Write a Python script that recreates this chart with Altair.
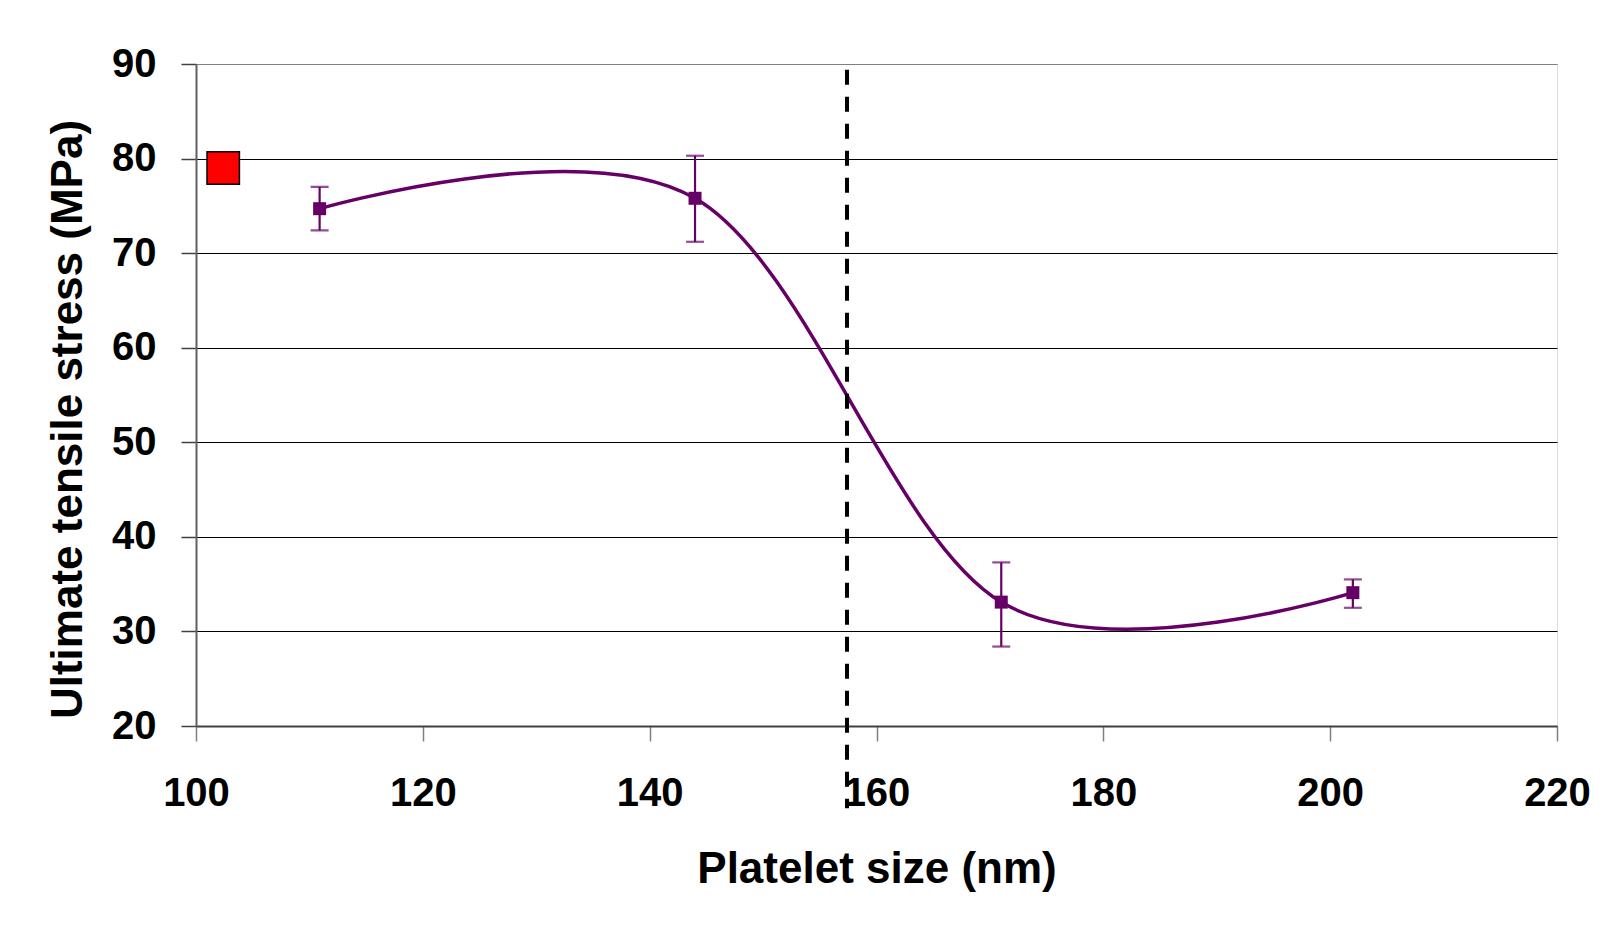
import altair as alt
import pandas as pd

# Measured series (platelet size nm, UTS MPa, error bar bounds)
size_nm = [110.9, 144.0, 171.0, 202.0]
uts_mpa = [74.7, 75.8, 33.1, 34.1]
err_low = [72.4, 71.2, 28.4, 32.5]
err_high = [77.0, 80.3, 37.3, 35.5]

# Reference (red) point
ref_size = [102.4]
ref_uts = [79.0]

# Critical size (dashed line) and its drawn extent
crit_size = [157.4]
crit_top = [89.4]
crit_bottom = [11.3]

x_ticks = [100, 120, 140, 160, 180, 200, 220]
y_ticks = [20, 30, 40, 50, 60, 70, 80, 90]

PURPLE = "#660066"
FONT = "Liberation Sans"

df = pd.DataFrame({"x": size_nm, "y": uts_mpa, "lo": err_low, "hi": err_high})
ref = pd.DataFrame({"x": ref_size, "y": ref_uts})
crit = pd.DataFrame({"x": crit_size, "y": crit_top, "y2": crit_bottom})

xscale = alt.Scale(domain=[100, 220], nice=False, zero=False)
yscale = alt.Scale(domain=[20, 90], nice=False, zero=False)

xaxis = alt.Axis(
    title="Platelet size (nm)", values=x_ticks, grid=False,
    tickSize=15, tickColor="#808080", tickWidth=1.5,
    domainColor="#404040", domainWidth=2,
    labelFont=FONT, labelFontSize=40, labelFontWeight="bold", labelColor="black",
    labelPadding=32, labelFlush=False,
    titleFont=FONT, titleFontSize=44, titleFontWeight="bold", titleColor="black",
    titleBaseline="alphabetic", titleY=156,
)
yaxis = alt.Axis(
    title="Ultimate tensile stress (MPa)", values=y_ticks, grid=True,
    gridColor={"condition": {"test": "datum.value == 90", "value": "#808080"}, "value": "black"},
    gridWidth=1,
    tickSize=15, tickColor="#404040", tickWidth=1.5,
    domainColor="#606060", domainWidth=2,
    labelFont=FONT, labelFontSize=40, labelFontWeight="bold", labelColor="black",
    labelPadding=25, labelFlush=False, labelBaseline="middle",
    titleFont=FONT, titleFontSize=44, titleFontWeight="bold", titleColor="black",
    titleBaseline="alphabetic", titleAlign="center", titleAngle=-90,
    titleX=-115, titleY=355,
)

base = alt.Chart(df)

line = base.mark_line(color=PURPLE, strokeWidth=3.5, interpolate="cardinal").encode(
    x=alt.X("x:Q", scale=xscale, axis=xaxis),
    y=alt.Y("y:Q", scale=yscale, axis=yaxis),
)

err = base.mark_rule(color=PURPLE, strokeWidth=2.2).encode(
    x="x:Q", y="lo:Q", y2="hi:Q"
)
cap_lo = base.mark_tick(color=PURPLE, orient="horizontal", size=18, thickness=2.2).encode(
    x="x:Q", y="lo:Q"
)
cap_hi = base.mark_tick(color=PURPLE, orient="horizontal", size=18, thickness=2.2).encode(
    x="x:Q", y="hi:Q"
)
pts = base.mark_square(color=PURPLE, size=169, opacity=1).encode(x="x:Q", y="y:Q")

refpt = alt.Chart(ref).mark_square(
    fill="#FF0000", stroke="black", strokeWidth=1.5, size=1050, opacity=1
).encode(x="x:Q", y="y:Q")

dashed = alt.Chart(crit).mark_rule(
    color="black", strokeWidth=4, strokeDash=[15, 12]
).encode(x="x:Q", y="y:Q", y2="y2:Q")

chart = alt.layer(line, err, cap_lo, cap_hi, pts, refpt, dashed).properties(
    width=1361, height=662,
    autosize=alt.AutoSizeParams(type="none"),
    padding={"left": 188, "top": 56, "right": 57, "bottom": 194},
).configure_view(
    stroke="#808080", strokeWidth=2
).configure(background="white")

chart.save("out.html", embed_options={"renderer": "svg", "actions": False})
